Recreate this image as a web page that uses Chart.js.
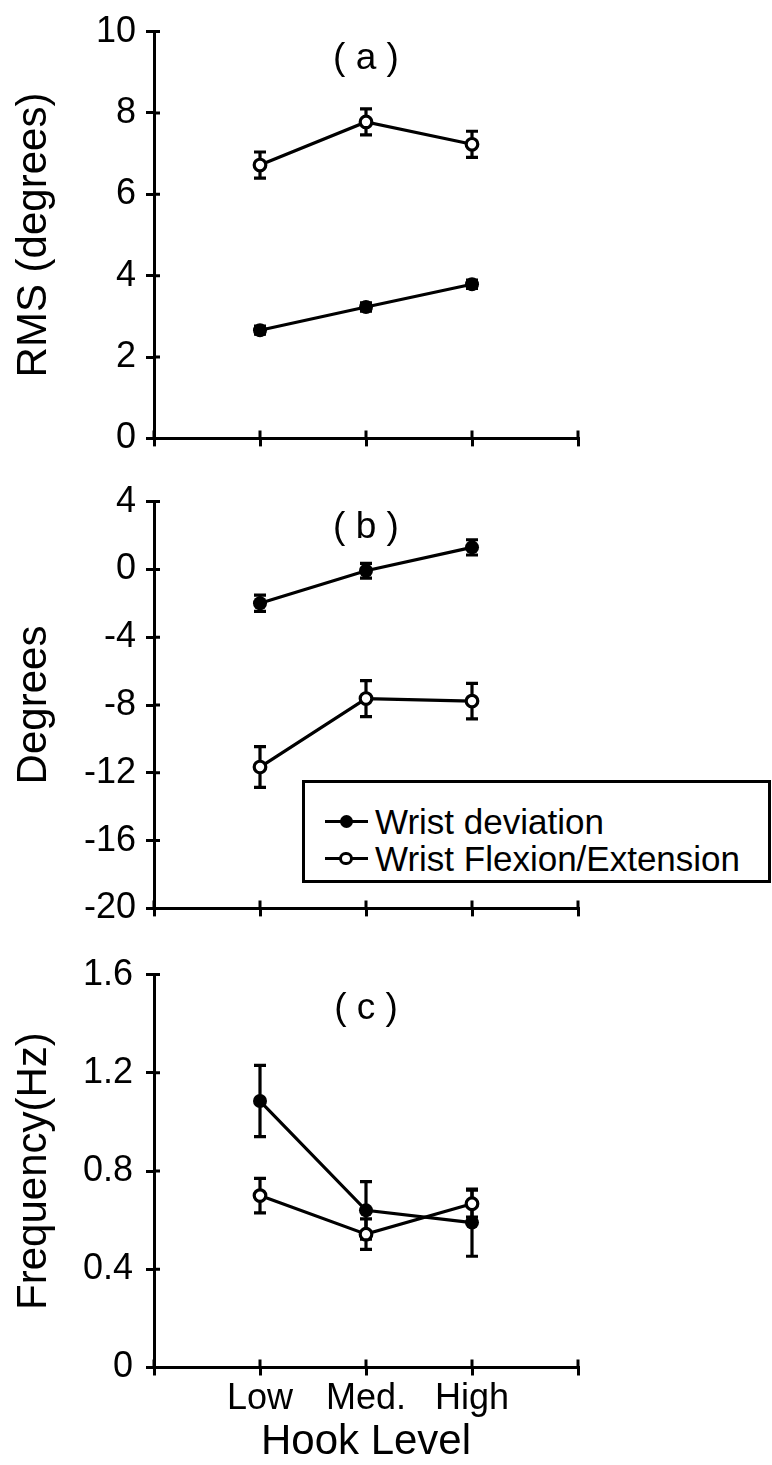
<!DOCTYPE html>
<html>
<head>
<meta charset="utf-8">
<script src="https://cdn.jsdelivr.net/npm/chart.js@4.4.1/dist/chart.umd.min.js"></script>
<style>
  html, body { margin: 0; padding: 0; background: #fff; }
  body { width: 772px; height: 1465px; position: relative; overflow: hidden; font-family: "Liberation Sans", Arial, sans-serif; }
  canvas { position: absolute; left: 0; }
  #legend { position: absolute; left: 302px; top: 780px; width: 469px; height: 103px; border: 3px solid #000; box-sizing: border-box; background: #fff; }
  #legend .row { position: absolute; left: 0; width: 100%; height: 37px; font-size: 35px; line-height: 37px; color: #000; white-space: nowrap; }
  #legend .line { position: absolute; left: 20px; top: 17.5px; width: 43px; height: 3px; background: #000; }
  #legend .dot { position: absolute; border-radius: 50%; box-sizing: border-box; }
  #legend .text { position: absolute; left: 70px; top: 0; }
</style>
</head>
<body>
<canvas id="chartA" width="772" height="470" style="top:0px"></canvas>
<canvas id="chartB" width="772" height="470" style="top:470px"></canvas>
<canvas id="chartC" width="772" height="525" style="top:940px"></canvas>
<div id="legend"></div>
<script>
// categories along the x axis (placed at 1, 2, 3 on a 0..4 axis)
const hookLevels = ['Low', 'Med.', 'High'];
const seriesNames = ['Wrist deviation', 'Wrist Flexion/Extension'];

// (a) RMS (degrees)
const rmsDeviation = [2.66, 3.23, 3.79];
const rmsDeviationErr = [0.1, 0.1, 0.1];
const rmsFlexExt = [6.72, 7.78, 7.23];
const rmsFlexExtErr = [0.32, 0.32, 0.32];

// (b) Degrees
const degDeviation = [-2.0, -0.08, 1.3];
const degDeviationErr = [0.48, 0.44, 0.45];
const degFlexExt = [-11.66, -7.62, -7.77];
const degFlexExtErr = [1.2, 1.06, 1.05];

// (c) Frequency (Hz)
const freqDeviation = [1.085, 0.64, 0.59];
const freqDeviationErr = [0.145, 0.117, 0.137];
const freqFlexExt = [0.70, 0.543, 0.667];
const freqFlexExtErr = [0.07, 0.062, 0.055];

const FONT = '"Liberation Sans", Arial, sans-serif';
Chart.defaults.font.family = FONT;
Chart.defaults.color = '#000';

function toPoints(values) {
  return values.map((v, i) => ({ x: i + 1, y: v }));
}

// vertical error bars, drawn under the markers
const errorBars = {
  id: 'errorBars',
  beforeDatasetsDraw(chart, args, opts) {
    const { ctx } = chart;
    const xs = chart.scales.x, ys = chart.scales.y;
    ctx.save();
    ctx.strokeStyle = '#000';
    ctx.lineWidth = opts.width;
    chart.data.datasets.forEach(ds => {
      ds.data.forEach((p, i) => {
        const e = ds.errors[i];
        const px = xs.getPixelForValue(p.x);
        const top = ys.getPixelForValue(p.y + e);
        const bot = ys.getPixelForValue(p.y - e);
        ctx.beginPath();
        ctx.moveTo(px, top); ctx.lineTo(px, bot);
        ctx.moveTo(px - opts.cap, top); ctx.lineTo(px + opts.cap, top);
        ctx.moveTo(px - opts.cap, bot); ctx.lineTo(px + opts.cap, bot);
        ctx.stroke();
      });
    });
    ctx.restore();
  }
};

// the part of each tick mark that crosses into the plot
const innerTicks = {
  id: 'innerTicks',
  afterDraw(chart, args, opts) {
    const { ctx, chartArea } = chart;
    const xs = chart.scales.x, ys = chart.scales.y;
    ctx.save();
    ctx.strokeStyle = '#000';
    ctx.lineWidth = 3;
    ctx.beginPath();
    xs.ticks.forEach(t => {
      const px = xs.getPixelForValue(t.value);
      ctx.moveTo(px, chartArea.bottom);
      ctx.lineTo(px, chartArea.bottom - opts.x);
    });
    ys.ticks.forEach(t => {
      const py = ys.getPixelForValue(t.value);
      ctx.moveTo(chartArea.left, py);
      ctx.lineTo(chartArea.left + opts.y, py);
    });
    ctx.stroke();
    ctx.restore();
  }
};

// "( a )" style tag above the middle category
const panelTag = {
  id: 'panelTag',
  afterDraw(chart, args, opts) {
    const { ctx, chartArea } = chart;
    ctx.save();
    ctx.font = '37px ' + FONT;
    ctx.fillStyle = '#000';
    ctx.textAlign = 'center';
    ctx.textBaseline = 'alphabetic';
    ctx.fillText(opts.text, chart.scales.x.getPixelForValue(opts.at), chartArea.top + opts.offset);
    ctx.restore();
  }
};

// legend as html, built from the datasets of chart (b)
const htmlLegend = {
  id: 'htmlLegend',
  afterUpdate(chart, args, opts) {
    const box = document.getElementById(opts.containerID);
    if (!box) return;
    box.innerHTML = '';
    chart.data.datasets.forEach((ds, i) => {
      const row = document.createElement('div');
      row.className = 'row';
      row.style.top = (19.8 + i * 36.7) + 'px';
      const line = document.createElement('span');
      line.className = 'line';
      const dot = document.createElement('span');
      dot.className = 'dot';
      const d = 2 * ds.pointRadius - 1 + ds.pointBorderWidth;
      dot.style.width = d + 'px';
      dot.style.height = d + 'px';
      dot.style.left = (41 - d / 2) + 'px';
      dot.style.top = (19 - d / 2) + 'px';
      dot.style.background = ds.pointBackgroundColor;
      dot.style.border = ds.pointBorderWidth + 'px solid ' + ds.pointBorderColor;
      const text = document.createElement('span');
      text.className = 'text';
      text.textContent = ds.label;
      row.appendChild(line);
      row.appendChild(dot);
      row.appendChild(text);
      box.appendChild(row);
    });
  }
};

function axisLine() {
  return {
    grid: { drawOnChartArea: false, drawTicks: true, tickLength: 8, lineWidth: 3, color: '#000' },
    border: { display: true, color: '#000', width: 3 }
  };
}

function makePanel(canvasId, p) {
  const plugins = [errorBars, innerTicks, panelTag];
  if (p.legend) plugins.push(htmlLegend);
  return new Chart(document.getElementById(canvasId), {
    type: 'line',
    data: {
      datasets: [
        {
          label: seriesNames[0],
          data: toPoints(p.dev),
          errors: p.devErr,
          order: 1,
          borderColor: '#000',
          borderWidth: 3.2,
          pointRadius: 7,
          pointBackgroundColor: '#000',
          pointBorderColor: '#000',
          pointBorderWidth: 0,
          tension: 0
        },
        {
          label: seriesNames[1],
          data: toPoints(p.flex),
          errors: p.flexErr,
          order: 0,
          borderColor: '#000',
          borderWidth: 3.2,
          pointRadius: 5.8,
          pointBackgroundColor: '#fff',
          pointBorderColor: '#000',
          pointBorderWidth: 3.2,
          tension: 0
        }
      ]
    },
    options: {
      responsive: false,
      animation: false,
      layout: { padding: { left: 0, right: 194, top: p.padTop, bottom: p.padBottom } },
      plugins: {
        legend: { display: false },
        tooltip: { enabled: false },
        errorBars: { width: 3.2, cap: 6 },
        innerTicks: { x: 8, y: 6 },
        panelTag: { text: p.tag, at: 2, offset: p.tagOffset },
        htmlLegend: { containerID: 'legend' }
      },
      scales: {
        x: {
          type: 'linear',
          min: 0,
          max: 4,
          ...axisLine(),
          ticks: {
            stepSize: 1,
            display: p.xLabels,
            autoSkip: false,
            maxRotation: 0,
            padding: 2,
            font: { size: 36 },
            color: '#000',
            callback: v => hookLevels[v - 1] || ''
          },
          title: {
            display: p.xLabels,
            text: 'Hook Level',
            color: '#000',
            font: { size: 42, lineHeight: 1 },
            padding: { top: 0, bottom: 0 }
          },
          afterFit(s) { s.height = p.xHeight; }
        },
        y: {
          type: 'linear',
          min: p.yMin,
          max: p.yMax,
          ...axisLine(),
          ticks: {
            stepSize: p.yStep,
            padding: p.yPad,
            font: { size: 36 },
            color: '#000',
            callback: p.yFormat
          },
          title: {
            display: true,
            text: p.yTitle,
            color: '#000',
            font: { size: 42 },
            padding: { top: 9, bottom: 0 }
          },
          afterFit(s) { s.width = 154; }
        }
      }
    },
    plugins: plugins
  });
}

makePanel('chartA', {
  dev: rmsDeviation, devErr: rmsDeviationErr, flex: rmsFlexExt, flexErr: rmsFlexExtErr,
  yMin: 0, yMax: 10, yStep: 2, yPad: 10, yTitle: 'RMS (degrees)',
  yFormat: v => String(v),
  tag: '( a )', tagOffset: 37,
  padTop: 28, padBottom: 16.7, xHeight: 10, xLabels: false
});

makePanel('chartB', {
  dev: degDeviation, devErr: degDeviationErr, flex: degFlexExt, flexErr: degFlexExtErr,
  yMin: -20, yMax: 4, yStep: 4, yPad: 10, yTitle: 'Degrees',
  yFormat: v => String(v),
  tag: '( b )', tagOffset: 36,
  padTop: 21.7, padBottom: 17.5, xHeight: 10, xLabels: false,
  legend: true
});

makePanel('chartC', {
  dev: freqDeviation, devErr: freqDeviationErr, flex: freqFlexExt, flexErr: freqFlexExtErr,
  yMin: 0, yMax: 1.6, yStep: 0.4, yPad: 13, yTitle: 'Frequency(Hz)',
  yFormat: v => (v === 0 ? '0' : v.toFixed(1)),
  tag: '( c )', tagOffset: 44,
  padTop: 31.7, padBottom: 2, xHeight: 95.5, xLabels: true
});
</script>
</body>
</html>
